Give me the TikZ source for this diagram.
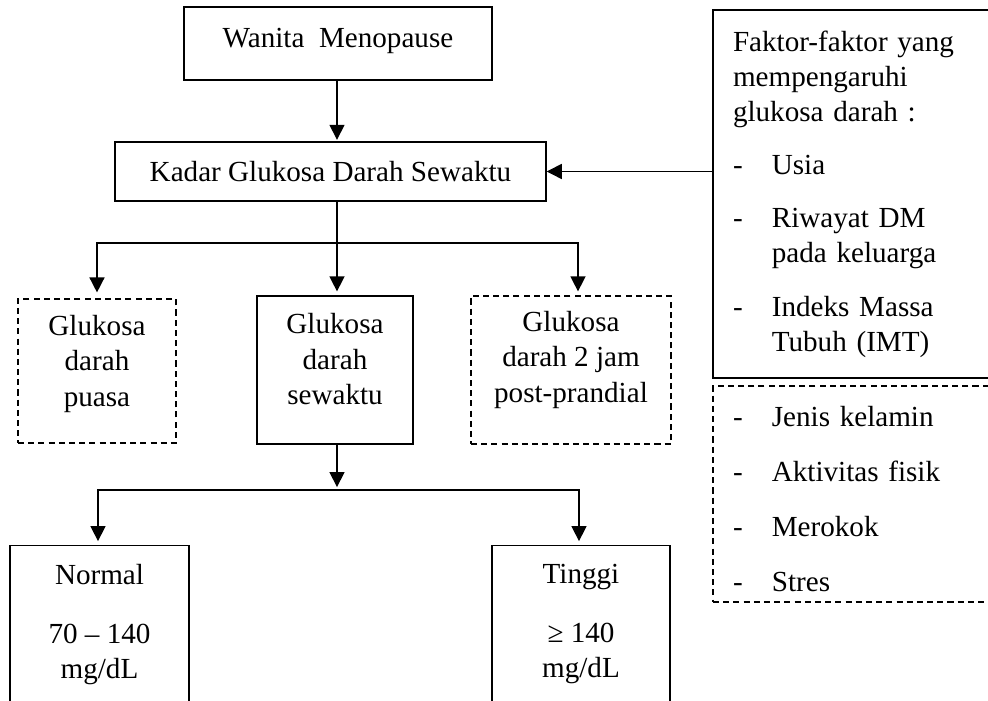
\documentclass[tikz,border=0pt]{standalone}
\usepackage{fontspec}
\setmainfont{Liberation Serif}
\usepackage{tikz}
\usetikzlibrary{arrows.meta}
\usetikzlibrary{positioning}

\newdimen\pxu
\pxu=0.412pt
\newcommand{\itemdash}{\makebox[16pt][l]{-}}
\newcommand{\itemskip}{\hspace*{16pt}}

\tikzset{
  line/.style={line width=0.6pt},
  arr/.style={line width=0.6pt,-{Triangle[width=6.2pt,length=6.2pt]},shorten >=1.6pt},
  solidbox/.style={draw,line width=0.6pt,inner sep=0pt,font=\fontsize{12}{14.5}\selectfont},
  dashbox/.style={solidbox,dash pattern=on 2.5pt off 1.7pt},
}

\begin{document}
\begin{tikzpicture}[x=0.412pt,y=-0.412pt]
  \useasboundingbox (0,0) rectangle (988,701);
  \clip (0,0) rectangle (988,701);

  \node[solidbox,minimum width=308\pxu,minimum height=73\pxu,text depth=5pt](wanita) at (338,43.5){Wanita~~Menopause};
  \node[solidbox,minimum width=431\pxu,minimum height=59\pxu](kadar) at (330.5,171.5){Kadar Glukosa Darah Sewaktu};

  \node[dashbox,minimum width=158\pxu,minimum height=144\pxu,align=center,text depth=8.4pt](puasa) at (97,371){Glukosa\\darah\\puasa};
  \node[solidbox,minimum width=156\pxu,minimum height=148\pxu,align=center,text depth=9pt](sewaktu) at (335,370){Glukosa\\darah\\sewaktu};
  \node[dashbox,minimum width=200\pxu,minimum height=148\pxu,align=center,text depth=10.8pt](pp) at (571,370){Glukosa\\darah 2 jam\\post-prandial};

  \node[solidbox,anchor=north,minimum width=179\pxu,inner ysep=7.5pt,align=center,text depth=20pt](normal) at (99.5,545){Normal\\[9.8pt]70 – 140\\mg/dL};
  \node[solidbox,anchor=north,minimum width=178\pxu,inner ysep=7.5pt,align=center,text depth=20pt](tinggi) at (581,545){Tinggi\\[9.8pt]≥ 140\\mg/dL};

  \node[solidbox,minimum width=300\pxu,minimum height=368\pxu,text width=260\pxu,align=left](faktor) at (863,194){Faktor-faktor yang\\mempengaruhi\\glukosa darah :\\[7.4pt]
    \itemdash Usia\\[7.4pt]
    \itemdash Riwayat DM\\\itemskip pada keluarga\\[7.4pt]
    \itemdash Indeks Massa\\\itemskip Tubuh (IMT)};
  \node[dashbox,minimum width=300\pxu,minimum height=216\pxu,text width=260\pxu,align=left,text height=12.4pt](lain) at (863,494){\itemdash Jenis kelamin\\[8.2pt]
    \itemdash Aktivitas fisik\\[8.2pt]
    \itemdash Merokok\\[8.2pt]
    \itemdash Stres};

  \coordinate (split1) at (337,243);
  \coordinate (split2) at (337,490);

  \draw[arr,shorten >=0.6pt] (wanita.south -| split1) -- (kadar.north -| split1);
  \draw[line] (kadar.south -| split1) -- (split1);
  \draw[arr,shorten >=2.4pt] (split1) -| (puasa.north);
  \draw[arr] (split1) -- (sewaktu.north -| split1);
  \draw[arr] (split1) -| ([xshift=7\pxu]pp.north);
  \draw[arr,shorten >=1.2pt] (sewaktu.south -| split2) -- (split2);
  \draw[arr] (split2) -| ([xshift=-1.5\pxu]normal.north);
  \draw[arr] (split2) -| ([xshift=-2\pxu]tinggi.north);
  \draw[arr,shorten >=0pt] (faktor.west |- kadar.east) -- (kadar.east);
\end{tikzpicture}
\end{document}
